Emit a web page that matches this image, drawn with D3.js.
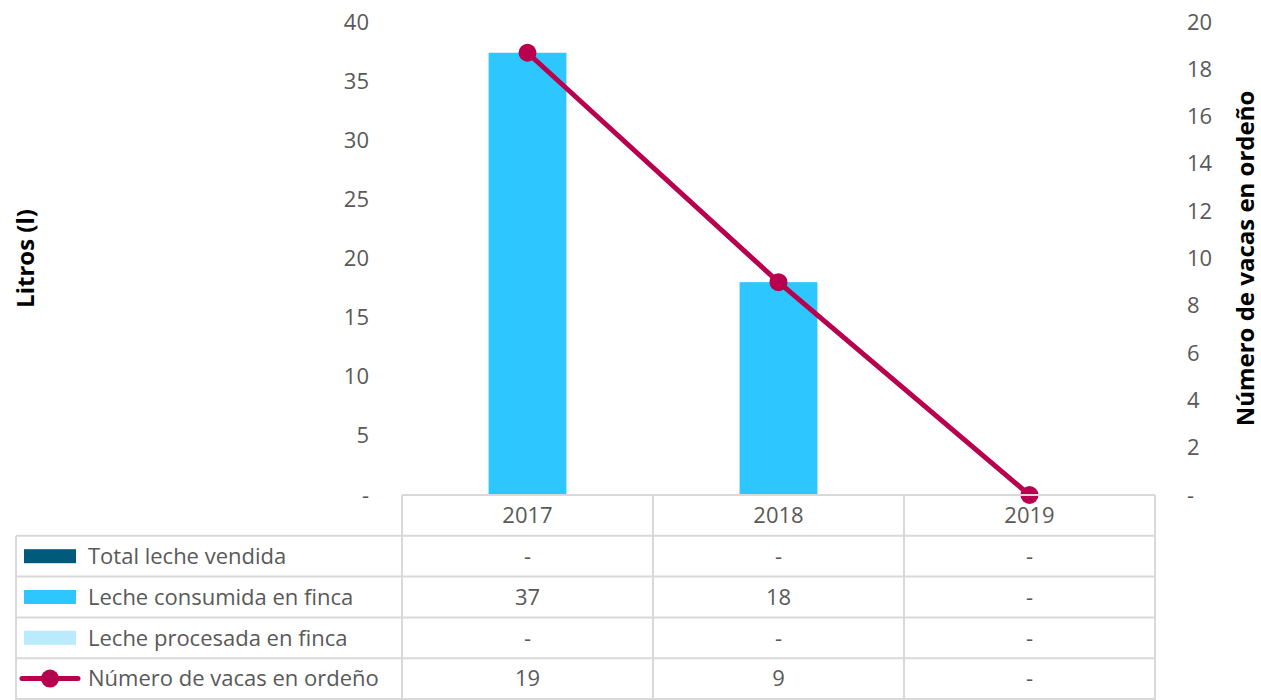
<!DOCTYPE html>
<html>
<head>
<meta charset="utf-8">
<script src="https://cdn.jsdelivr.net/npm/d3@7"></script>
<style>
  body { margin: 0; background: #fff; }
  text { font-family: "Open Sans", "Noto Sans", sans-serif; fill: #595959; }
</style>
</head>
<body>
<div id="chart"></div>
<script>
// data
var years = ["2017", "2018", "2019"];
var totalVendida = [0, 0, 0];
var consumidaFinca = [37.4, 18, 0];
var procesadaFinca = [0, 0, 0];
var vacasOrdeno = [18.7, 9, 0];
var leftTicks = [0, 5, 10, 15, 20, 25, 30, 35, 40];
var rightTicks = [0, 2, 4, 6, 8, 10, 12, 14, 16, 18, 20];

var series = [
  { name: "Total leche vendida", values: totalVendida, color: "#005A7B", type: "bar" },
  { name: "Leche consumida en finca", values: consumidaFinca, color: "#2EC6FF", type: "bar" },
  { name: "Leche procesada en finca", values: procesadaFinca, color: "#B9EBFD", type: "bar" },
  { name: "Número de vacas en ordeño", values: vacasOrdeno, color: "#B8004E", type: "line" }
];

const width = 1261, height = 700;
const plot = { left: 402, right: 1155, top: 22, bottom: 495 };
const tableLeft = 16, rowH = 40.8;
const lineColor = "#D9D9D9";
const fs = "22px";

const svg = d3.select("#chart")
  .append("svg")
  .attr("width", width)
  .attr("height", height);

// scales
var x = d3.scaleBand()
  .domain(years)
  .range([plot.left, plot.right])
  .padding(0);
var yLeft = d3.scaleLinear()
  .domain([0, 40])
  .range([plot.bottom, plot.top]);
var yRight = d3.scaleLinear()
  .domain([0, 20])
  .range([plot.bottom, plot.top]);

var fmtAxis = d => d === 0 ? "-" : d;

// left axis
var gl = svg.append("g")
  .attr("transform", "translate(" + plot.left + ",0)")
  .call(d3.axisLeft(yLeft).tickValues(leftTicks).tickFormat(fmtAxis).tickSize(0).tickPadding(33));
gl.select(".domain").remove();
gl.selectAll("text").style("font-size", fs).style("font-family", "'Open Sans', sans-serif").attr("fill", "#595959");

// right axis
var gr = svg.append("g")
  .attr("transform", "translate(" + plot.right + ",0)")
  .call(d3.axisRight(yRight).tickValues(rightTicks).tickFormat(fmtAxis).tickSize(0).tickPadding(32));
gr.select(".domain").remove();
gr.selectAll("text").style("font-size", fs).style("font-family", "'Open Sans', sans-serif").attr("fill", "#595959");

// axis titles
svg.append("text")
  .attr("transform", "translate(34," + (plot.top + plot.bottom) / 2 + ") rotate(-90)")
  .attr("text-anchor", "middle")
  .style("font-size", "24px")
  .style("font-weight", "bold")
  .style("fill", "#000")
  .text("Litros (l)");

svg.append("text")
  .attr("transform", "translate(1254," + (plot.top + plot.bottom) / 2 + ") rotate(-90)")
  .attr("text-anchor", "middle")
  .style("font-size", "24px")
  .style("font-weight", "bold")
  .style("fill", "#000")
  .text("Número de vacas en ordeño");

// bars (stacked, only consumida has values)
var barW = x.bandwidth() * 0.31;
var barSeries = series.filter(s => s.type === "bar");
var stackRows = years.map((yr, i) => {
  var row = { year: yr };
  barSeries.forEach(s => row[s.name] = s.values[i]);
  return row;
});
var stacked = d3.stack().keys(barSeries.map(s => s.name))(stackRows);

svg.append("g")
  .selectAll("g")
  .data(stacked)
  .enter().append("g")
  .attr("fill", (d, i) => barSeries[i].color)
  .selectAll("rect")
  .data(d => d)
  .enter().append("rect")
  .attr("x", d => x(d.data.year) + (x.bandwidth() - barW) / 2)
  .attr("y", d => yLeft(d[1]))
  .attr("width", barW)
  .attr("height", d => yLeft(d[0]) - yLeft(d[1]));

// line
var lineSeries = series[3];
var line = d3.line()
  .x((d, i) => x(years[i]) + x.bandwidth() / 2)
  .y(d => yRight(d));

svg.append("path")
  .datum(lineSeries.values)
  .attr("fill", "none")
  .attr("stroke", lineSeries.color)
  .attr("stroke-width", 5)
  .attr("d", line);

svg.append("g")
  .selectAll("circle")
  .data(lineSeries.values)
  .enter().append("circle")
  .attr("cx", (d, i) => x(years[i]) + x.bandwidth() / 2)
  .attr("cy", d => yRight(d))
  .attr("r", 9)
  .attr("fill", lineSeries.color);

// data table
var table = svg.append("g");
var fmtCell = d => d === 0 ? "-" : d3.format(".0f")(d);

// header row line
table.append("line")
  .attr("x1", plot.left).attr("x2", plot.right)
  .attr("y1", plot.bottom).attr("y2", plot.bottom)
  .attr("stroke", lineColor).attr("stroke-width", 2);

// horizontal lines of body rows
series.forEach((s, i) => {
  table.append("line")
    .attr("x1", tableLeft).attr("x2", plot.right)
    .attr("y1", plot.bottom + rowH * (i + 1)).attr("y2", plot.bottom + rowH * (i + 1))
    .attr("stroke", lineColor).attr("stroke-width", 2);
});
table.append("line")
  .attr("x1", tableLeft).attr("x2", plot.right)
  .attr("y1", height - 1).attr("y2", height - 1)
  .attr("stroke", lineColor).attr("stroke-width", 2);

// vertical lines
table.append("line")
  .attr("x1", tableLeft).attr("x2", tableLeft)
  .attr("y1", plot.bottom + rowH).attr("y2", height)
  .attr("stroke", lineColor).attr("stroke-width", 2);
[plot.left].concat(years.map(y => x(y) + x.bandwidth())).forEach(xv => {
  table.append("line")
    .attr("x1", xv).attr("x2", xv)
    .attr("y1", plot.bottom).attr("y2", height)
    .attr("stroke", lineColor).attr("stroke-width", 2);
});

// year headers
table.selectAll(".yr")
  .data(years)
  .enter().append("text")
  .attr("x", d => x(d) + x.bandwidth() / 2)
  .attr("y", plot.bottom + rowH / 2)
  .attr("dy", "0.35em")
  .attr("text-anchor", "middle")
  .style("font-size", fs)
  .text(d => d);

// rows
series.forEach((s, i) => {
  var cy = plot.bottom + rowH * (i + 1) + rowH / 2;
  if (s.type === "bar") {
    table.append("rect")
      .attr("x", 24).attr("y", cy - 7)
      .attr("width", 52).attr("height", 14)
      .attr("fill", s.color);
  } else {
    table.append("line")
      .attr("x1", 22).attr("x2", 78)
      .attr("y1", cy).attr("y2", cy)
      .attr("stroke", s.color).attr("stroke-width", 5)
      .attr("stroke-linecap", "round");
    table.append("circle")
      .attr("cx", 50).attr("cy", cy).attr("r", 9)
      .attr("fill", s.color);
  }
  table.append("text")
    .attr("x", 88).attr("y", cy)
    .attr("dy", "0.35em")
    .style("font-size", fs)
    .text(s.name);

  table.selectAll(".cell" + i)
    .data(s.values)
    .enter().append("text")
    .attr("x", (d, j) => x(years[j]) + x.bandwidth() / 2)
    .attr("y", cy)
    .attr("dy", "0.35em")
    .attr("text-anchor", "middle")
    .style("font-size", fs)
    .text(d => fmtCell(d));
});
</script>
</body>
</html>
